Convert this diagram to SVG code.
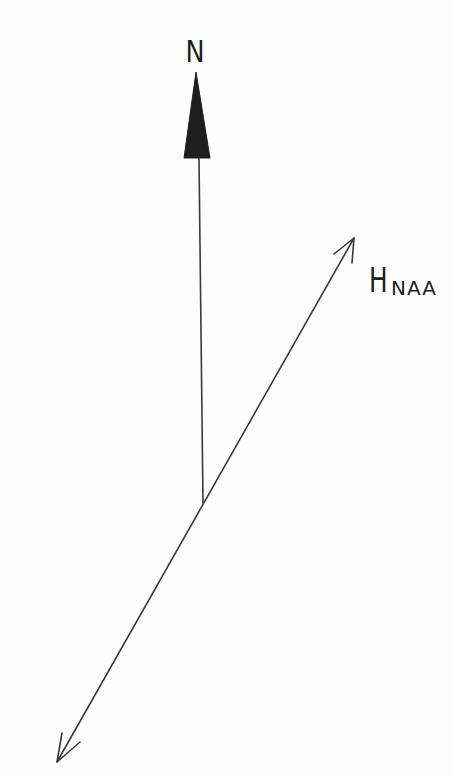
<svg xmlns="http://www.w3.org/2000/svg" width="452" height="777" viewBox="0 0 452 777">
<style>
.ln{stroke:#3a3a3a;stroke-width:1.6;fill:none;stroke-linecap:round;stroke-linejoin:round}
.tx{font-family:"DejaVu Sans","Liberation Sans",sans-serif;fill:#1e1e1e}
</style>
<rect width="452" height="777" fill="#fdfdfd"/>
<g id="north">
<text class="tx" x="195" y="62" font-size="30" text-anchor="middle" transform="translate(195 62) scale(0.85 1) translate(-195 -62)">N</text>
<polygon points="196,72 184,158 210,158" fill="#1e1e1e" stroke="#1e1e1e" stroke-width="1"/>
</g>
<g id="hnaa">
<text class="tx" x="369" y="292" font-size="33" transform="translate(369 292) scale(0.75 1) translate(-369 -292)">H</text>
<text class="tx" x="391" y="295" font-size="20" letter-spacing="1">NAA</text>
</g>
<g id="connectors">
<line class="ln" x1="199" y1="158" x2="203" y2="503"/>
<line class="ln" x1="354" y1="238" x2="57" y2="762"/>
<polyline class="ln" points="334,254 354,238 352,263"/>
<polyline class="ln" points="62,733 57,762 80,742"/>
</g>
</svg>
